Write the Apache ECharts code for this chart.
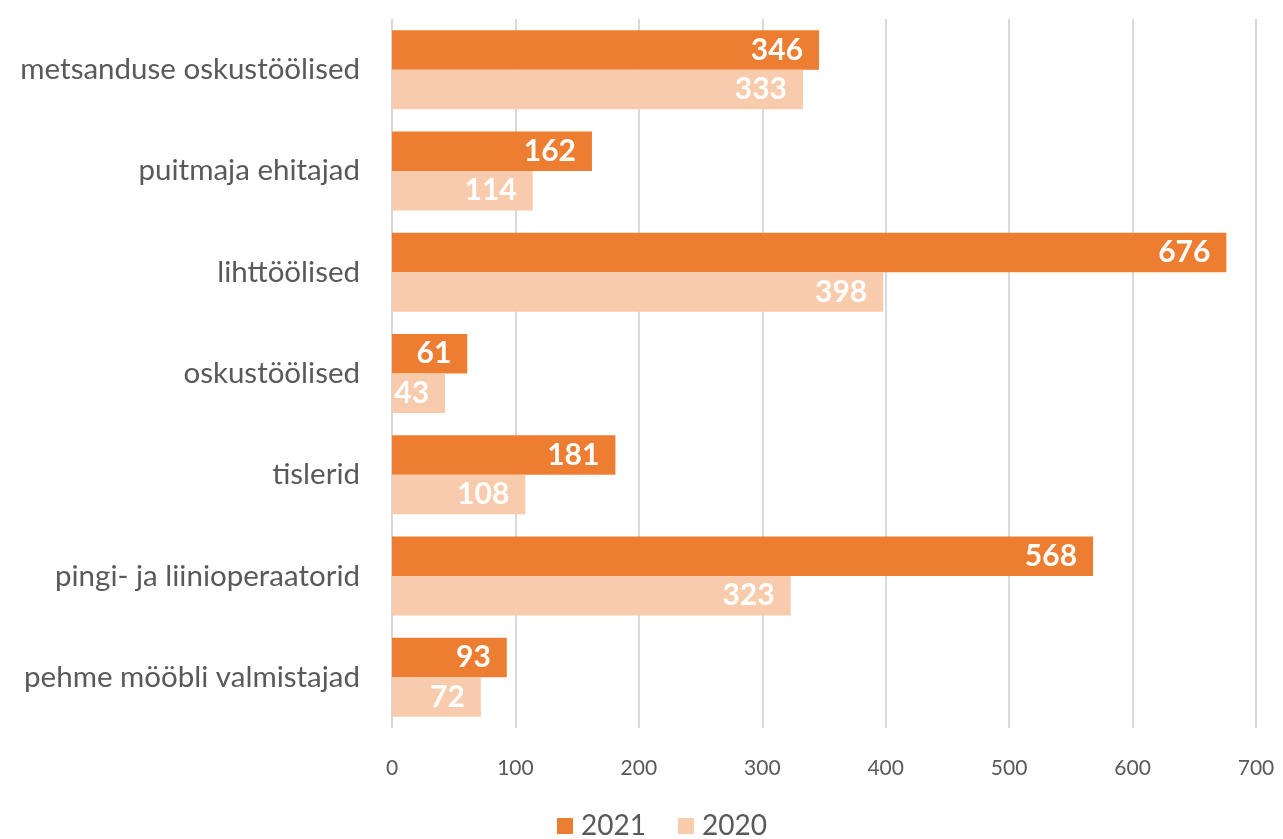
<!DOCTYPE html>
<html><head><meta charset="utf-8">
<script src="https://cdn.jsdelivr.net/npm/echarts@6/dist/echarts.min.js"></script>
<style>html,body{margin:0;padding:0;background:#fff}#c{width:1283px;height:839px}</style>
</head><body><div id="c"></div>
<script>
const categories = ["metsanduse oskustöölised","puitmaja ehitajad","lihttöölised","oskustöölised","tislerid","pingi- ja liinioperaatorid","pehme mööbli valmistajad"];
const values2021 = [346,162,676,61,181,568,93];
const values2020 = [333,114,398,43,108,323,72];
const seriesNames = ["2021","2020"];
const FONT = "Lato, 'Open Sans', sans-serif";
const chart = echarts.init(document.getElementById('c'), null, {renderer:'canvas'});
const lbl = {show:true, position:'insideRight', color:'#fff', fontWeight:'bold', fontSize:30, fontFamily:FONT, distance:16};
chart.setOption({
  animation:false,
  grid:{left:392, right:27, top:19, bottom:111, containLabel:false},
  legend:{data:seriesNames, top:812, left:557, padding:0, itemWidth:16, itemHeight:16, itemGap:32, icon:'rect',
    textStyle:{fontSize:28, color:'#595959', fontFamily:FONT, padding:[0,0,0,3]}},
  xAxis:{type:'value', min:0, max:700, interval:100,
    axisLine:{show:false}, axisTick:{show:false},
    axisLabel:{fontSize:21, color:'#595959', fontFamily:FONT, margin:30},
    splitLine:{show:true, lineStyle:{color:'#D9D9D9', width:2}}},
  yAxis:{type:'category', data:categories, inverse:true,
    axisLine:{show:false}, axisTick:{show:false},
    axisLabel:{fontSize:29.5, color:'#595959', fontFamily:FONT, margin:32}},
  series:[
    {name:seriesNames[0], type:'bar', data:values2021, itemStyle:{color:'#ED7D31'}, barGap:'0%', barCategoryGap:'22%', label:lbl},
    {name:seriesNames[1], type:'bar', data:values2020, itemStyle:{color:'#F8CBAD'}, barGap:'0%', barCategoryGap:'22%', label:lbl}
  ]
});
</script></body></html>
